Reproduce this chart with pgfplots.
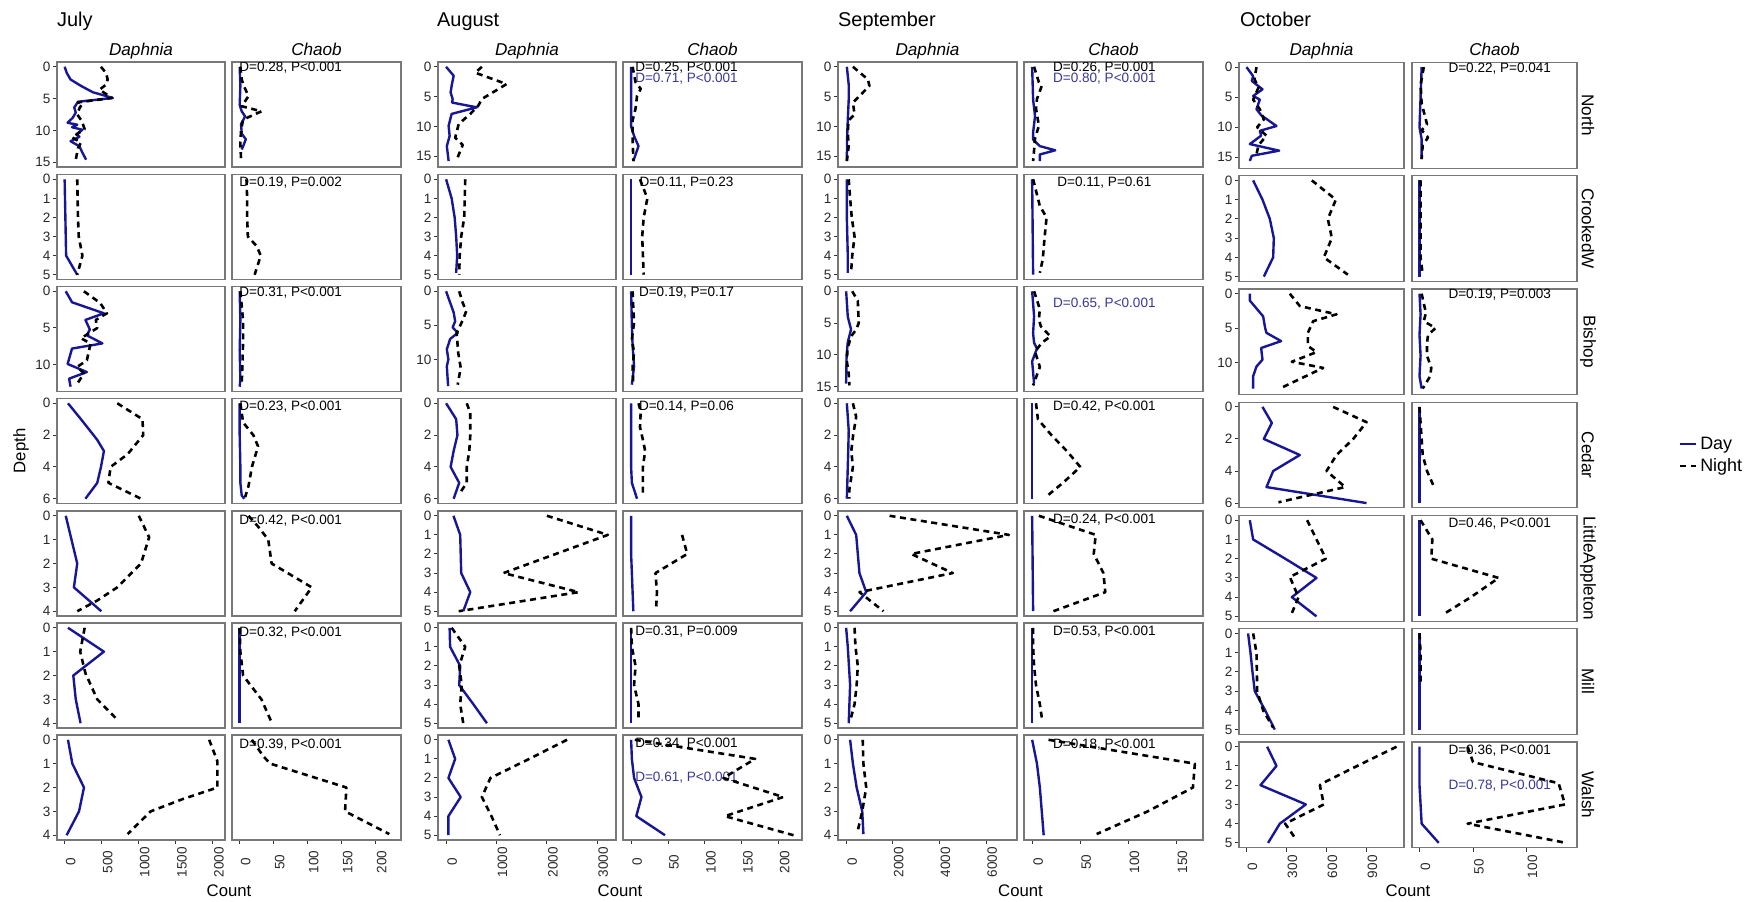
\documentclass[border=0pt]{standalone}
\usepackage{fontspec}
\setmainfont{Liberation Sans}
\usepackage{pgfplots}
\pgfplotsset{compat=1.18}

% one pixel of the layout grid
\newdimen\pxu
\pxu=1bp

\definecolor{dayblue}{RGB}{22,22,150}
\definecolor{statblue}{RGB}{55,55,150}
\definecolor{framegray}{RGB}{120,120,120}
\definecolor{tickgray}{RGB}{51,51,51}
\definecolor{labgray}{RGB}{40,40,40}

\newcommand{\tickfont}{\fontsize{13.6}{16}\selectfont}
\newcommand{\stripfont}{\fontsize{17.2}{20}\selectfont}
\newcommand{\titlefont}{\fontsize{20}{24}\selectfont}
\newcommand{\labfont}{\fontsize{16.8}{20}\selectfont}
\newcommand{\legfont}{\fontsize{18}{22}\selectfont}

\pgfplotsset{
  panel/.style={
    scale only axis, anchor=north west,
    y dir=reverse,
    axis line style={draw=framegray, line width=1.2pt},
    tick align=outside,
    major tick length=4\pxu,
    tick style={draw=tickgray, line width=1pt},
    xtick=\empty, ytick=\empty,
    xtick pos=lower, ytick pos=left,
    ticklabel style={font=\tickfont, text=labgray},
    yticklabel style={inner sep=2.4pt},
    scaled ticks=false,
    /pgf/number format/assume math mode=true,
    /pgf/number format/1000 sep={},
  },
  xlab/.style={xticklabel style={yshift=-#1\pxu, xshift=6\pxu, rotate=90, anchor=center, inner sep=0pt}},
  day/.style={draw=dayblue, line width=2.4pt, no markers, line join=round},
  night/.style={draw=black, line width=2.6pt, dash pattern=on 6pt off 4.6pt, no markers, line join=round},
  yr/.style 2 args={ymin=#1, ymax=#2},
  % columns: July, August, September, October  (Daphnia / Chaob)
  JD/.style={at={(57\pxu,-#1\pxu)}, width=168\pxu, height=105\pxu, xmin=-103, xmax=2163},
  JC/.style={at={(232\pxu,-#1\pxu)}, width=169\pxu, height=105\pxu, xmin=-11.3, xmax=237.3},
  AD/.style={at={(438\pxu,-#1\pxu)}, width=178\pxu, height=105\pxu, xmin=-160.5, xmax=3371.5},
  AC/.style={at={(623\pxu,-#1\pxu)}, width=179\pxu, height=105\pxu, xmin=-11, xmax=231.5},
  SD/.style={at={(838\pxu,-#1\pxu)}, width=179\pxu, height=105\pxu, xmin=-349, xmax=7324},
  SC/.style={at={(1024\pxu,-#1\pxu)}, width=179\pxu, height=105\pxu, xmin=-8.45, xmax=177.45},
  OD/.style={at={(1239\pxu,-#1\pxu)}, width=165\pxu, height=105.8\pxu, xmin=-56, xmax=1181},
  OC/.style={at={(1412\pxu,-#1\pxu)}, width=165\pxu, height=105.8\pxu, xmin=-7, xmax=147.2},
}
\tikzset{
  dlab/.style={font=\tickfont, text=black, anchor=center, inner sep=0pt},
  blab/.style={font=\tickfont, text=statblue, anchor=center, inner sep=0pt},
}

\begin{document}
\begin{tikzpicture}
\useasboundingbox (0,0) rectangle (1763\pxu,-901\pxu);

% ======================= July =======================
\begin{axis}[panel, JD=62, yr={-0.75}{15.75}, ytick={0,5,10,15}]
\addplot[day] coordinates {(0,0) (30,1) (80,2) (220,3) (380,4) (650,4.9) (180,5.5) (130,6.4) (150,7.2) (110,8) (40,8.8) (170,9.1) (100,9.5) (240,9.9) (160,10.6) (200,11) (80,11.7) (200,12.5) (240,13.5) (290,14.6)};
\addplot[night] coordinates {(490,0) (560,1) (580,2) (560,2.8) (470,3.6) (640,4.9) (180,5.6) (240,5.8) (200,6.5) (170,7.5) (230,8.5) (270,9.8) (100,11.1) (220,11.9) (180,12.8) (150,14.6)};
\end{axis}
\begin{axis}[panel, JC=62, yr={-0.75}{15.75}]
\node[dlab] at (axis cs:75,0.2) {D=0.28, P<0.001};
\addplot[day] coordinates {(0,0) (1,3) (0,6) (3,7) (8,7.8) (2,9) (3,10.5) (9,11.4) (5,12.5) (3,13)};
\addplot[night] coordinates {(1,0) (3,2) (6,3) (13,4.6) (3,6.2) (32,7) (5,8.3) (2,10) (1,12) (2,14.6)};
\end{axis}

\begin{axis}[panel, JD=174.5, yr={-0.25}{5.25}, ytick={0,...,5}]
\addplot[day] coordinates {(0,0) (5,1) (10,2) (15,3) (20,4) (170,5)};
\addplot[night] coordinates {(170,0) (175,1) (180,2) (190,3) (240,4) (170,5)};
\end{axis}
\begin{axis}[panel, JC=174.5, yr={-0.25}{5.25}]
\node[dlab] at (axis cs:75,0.2) {D=0.19, P=0.002};
\addplot[night] coordinates {(10,0) (11,1) (11,2) (12,3) (25,3.5) (31,4) (22,5)};
\end{axis}

\begin{axis}[panel, JD=286.5, yr={-0.65}{13.65}, ytick={0,5,10}]
\addplot[day] coordinates {(15,0) (100,1.5) (530,3) (280,3.9) (340,5.2) (300,6) (510,7.1) (100,7.8) (40,9.9) (300,11) (60,11.9) (80,13)};
\addplot[night] coordinates {(260,0) (480,1.6) (570,3) (420,3.9) (440,5) (220,6.4) (350,7.1) (300,9.4) (170,10.3) (260,11.2) (170,12.6)};
\end{axis}
\begin{axis}[panel, JC=286.5, yr={-0.65}{13.65}]
\node[dlab] at (axis cs:75,0.2) {D=0.31, P<0.001};
\addplot[day] coordinates {(0,0) (1,4) (0,8) (1,12) (0,13)};
\addplot[night] coordinates {(1,0) (3,2) (5,4) (5,7) (4,10) (3,12.6)};
\end{axis}

\begin{axis}[panel, JD=398.5, yr={-0.3}{6.3}, ytick={0,2,4,6}]
\addplot[day] coordinates {(45,0) (220,1) (440,2.3) (530,3) (490,4) (440,5) (280,6)};
\addplot[night] coordinates {(710,0) (1050,1) (1060,2) (850,3.2) (620,4) (590,5) (1030,6)};
\end{axis}
\begin{axis}[panel, JC=398.5, yr={-0.3}{6.3}]
\node[dlab] at (axis cs:75,0.2) {D=0.23, P<0.001};
\addplot[day] coordinates {(0,0) (0,2) (1,4) (1,5) (3,5.8) (7,6)};
\addplot[night] coordinates {(1,0) (5,1.2) (20,2) (27,2.7) (25,3) (18,4) (13,5.2) (8,5.9)};
\end{axis}

\begin{axis}[panel, JD=511, yr={-0.2}{4.2}, ytick={0,...,4}]
\addplot[day] coordinates {(15,0) (170,2) (125,3) (495,4)};
\addplot[night] coordinates {(1000,0) (1140,0.9) (1030,2) (710,3) (440,3.55) (170,4)};
\end{axis}
\begin{axis}[panel, JC=511, yr={-0.2}{4.2}]
\node[dlab] at (axis cs:75,0.2) {D=0.42, P<0.001};
\addplot[night] coordinates {(13,0) (27,0.45) (42,1) (47,2) (106,3) (81,4)};
\end{axis}

\begin{axis}[panel, JD=623, yr={-0.2}{4.2}, ytick={0,...,4}]
\addplot[day] coordinates {(45,0) (530,1) (117,2) (150,3) (215,4)};
\addplot[night] coordinates {(270,0) (210,1) (280,1.9) (440,3) (710,3.85)};
\end{axis}
\begin{axis}[panel, JC=623, yr={-0.2}{4.2}]
\node[dlab] at (axis cs:75,0.2) {D=0.32, P<0.001};
\addplot[day] coordinates {(0,0) (0,1) (0,2) (0,3) (0,4)};
\addplot[night] coordinates {(0,0) (1,1) (5,2) (32,3) (46,3.9)};
\end{axis}

\begin{axis}[panel, JD=735, yr={-0.2}{4.2}, ytick={0,...,4}, xtick={0,500,1000,1500,2000}, xlab=18]
\addplot[day] coordinates {(45,0) (104,1) (261,2) (194,3) (27,4)};
\addplot[night] coordinates {(1950,0) (2060,0.9) (2060,2) (1580,2.5) (1160,3) (850,3.95)};
\end{axis}
\begin{axis}[panel, JC=735, yr={-0.2}{4.2}, xtick={0,50,100,150,200}, xlab=18]
\node[dlab] at (axis cs:75,0.2) {D=0.39, P<0.001};
\addplot[night] coordinates {(18,0) (35,0.7) (45,1) (157,2) (155,3) (220,3.95)};
\end{axis}

% ======================= August =======================
\begin{axis}[panel, AD=62, yr={-0.8}{16.8}, ytick={0,5,10,15}]
\addplot[day] coordinates {(0,0) (150,1.5) (110,3.2) (90,4.3) (130,5.4) (120,6) (610,6.8) (110,7.9) (50,9.9) (70,11.6) (15,13.3) (50,15.8)};
\addplot[night] coordinates {(710,0) (580,1) (1200,2.9) (710,5.4) (640,6.5) (480,7.9) (250,9.6) (180,11.9) (330,13.1) (200,15.8)};
\end{axis}
\begin{axis}[panel, AC=62, yr={-0.8}{16.8}]
\node[dlab] at (axis cs:75,0.2) {D=0.25, P<0.001};
\node[blab] at (axis cs:75,2) {D=0.71, P<0.001};
\addplot[day] coordinates {(0,0) (0,6) (0,10) (4,11.6) (10,13.3) (3,15.8)};
\addplot[night] coordinates {(2,0) (6,2.6) (13,3.7) (8,4.9) (6,7) (2,9) (2,12) (3,15.8)};
\end{axis}

\begin{axis}[panel, AD=174.5, yr={-0.25}{5.25}, ytick={0,...,5}]
\addplot[day] coordinates {(0,0) (110,1) (170,2) (200,3) (220,4) (200,4.9)};
\addplot[night] coordinates {(380,0) (370,1) (360,2) (300,3) (270,4) (260,5)};
\end{axis}
\begin{axis}[panel, AC=174.5, yr={-0.25}{5.25}]
\node[dlab] at (axis cs:75,0.2) {D=0.11, P=0.23};
\addplot[day] coordinates {(0,0) (0,5)};
\addplot[night] coordinates {(12,0) (22,1) (17,2) (15,3) (16,4) (17,5)};
\end{axis}

\begin{axis}[panel, AD=286.5, yr={-0.7}{14.7}, ytick={0,5,10}]
\addplot[day] coordinates {(0,0) (150,3.1) (180,4.4) (130,5.3) (230,6.1) (80,7) (15,8.5) (45,10) (15,11) (40,13.9)};
\addplot[night] coordinates {(260,0) (330,1.7) (400,2.9) (340,4.1) (210,6.1) (240,9) (290,11.2) (230,13.7)};
\end{axis}
\begin{axis}[panel, AC=286.5, yr={-0.7}{14.7}]
\node[dlab] at (axis cs:75,0.2) {D=0.19, P=0.17};
\addplot[day] coordinates {(0,0) (1,5) (2,8) (4,11) (1,13.7)};
\addplot[night] coordinates {(2,0) (3,2.6) (4,4.6) (1,7) (4,9) (2,11) (3,13.7)};
\end{axis}

\begin{axis}[panel, AD=398.5, yr={-0.3}{6.3}, ytick={0,2,4,6}]
\addplot[day] coordinates {(0,0) (200,1) (225,2) (150,3) (90,4) (260,5) (150,6)};
\addplot[night] coordinates {(410,0) (480,0.6) (480,2) (460,3) (410,4) (410,5) (250,5.75)};
\end{axis}
\begin{axis}[panel, AC=398.5, yr={-0.3}{6.3}]
\node[dlab] at (axis cs:75,0.2) {D=0.14, P=0.06};
\addplot[day] coordinates {(0,0) (0,4) (1,5) (8,6)};
\addplot[night] coordinates {(10,0) (13,0.5) (12,1.5) (16,2.3) (19,3) (16,4) (16,5.65)};
\end{axis}

\begin{axis}[panel, AD=511, yr={-0.25}{5.25}, ytick={0,...,5}]
\addplot[day] coordinates {(146,0) (280,1) (290,2) (300,3) (480,4) (340,5)};
\addplot[night] coordinates {(2000,0) (3210,1) (1140,3) (2630,4) (250,5)};
\end{axis}
\begin{axis}[panel, AC=511, yr={-0.25}{5.25}]
\addplot[day] coordinates {(0,0) (0,2) (1,3) (2,4) (3,5)};
\addplot[night] coordinates {(69,1) (76,2) (33,3) (35,4) (34,4.75)};
\end{axis}

\begin{axis}[panel, AD=623, yr={-0.25}{5.25}, ytick={0,...,5}]
\addplot[day] coordinates {(70,0) (80,1) (280,2) (260,3) (540,4) (810,5)};
\addplot[night] coordinates {(110,0) (380,1) (260,2) (310,3) (280,4) (340,5)};
\end{axis}
\begin{axis}[panel, AC=623, yr={-0.25}{5.25}]
\node[dlab] at (axis cs:75,0.2) {D=0.31, P=0.009};
\addplot[day] coordinates {(0,0) (0,5)};
\addplot[night] coordinates {(0,0) (1,1) (6,2) (4,3) (10,4) (10,4.7)};
\end{axis}

\begin{axis}[panel, AD=735, yr={-0.25}{5.25}, ytick={0,...,5}, xtick={0,1000,2000,3000}, xlab=18]
\addplot[day] coordinates {(46,0) (180,1) (46,2) (290,3) (46,4) (46,5)};
\addplot[night] coordinates {(2400,0) (1650,1) (880,2) (710,3) (900,4) (1070,5)};
\end{axis}
\begin{axis}[panel, AC=735, yr={-0.25}{5.25}, xtick={0,50,100,150,200}, xlab=18]
\node[dlab] at (axis cs:75,0.2) {D=0.34, P<0.001};
\node[blab] at (axis cs:75,2) {D=0.61, P<0.001};
\addplot[day] coordinates {(0,0) (1,1) (4,2) (14,3) (7,4) (46,5)};
\addplot[night] coordinates {(5,0) (168,1) (125,2) (206,3) (127,4) (220,5)};
\end{axis}

% ======================= September =======================
\begin{axis}[panel, SD=62, yr={-0.8}{16.8}, ytick={0,5,10,15}]
\addplot[day] coordinates {(30,0) (110,3) (110,5.5) (70,9) (40,12) (30,15.8)};
\addplot[night] coordinates {(290,0) (930,2.1) (1000,3.2) (570,4.9) (290,6) (360,8) (100,9) (70,11) (110,13.3) (30,15.8)};
\end{axis}
\begin{axis}[panel, SC=62, yr={-0.8}{16.8}]
\node[dlab] at (axis cs:75,0.2) {D=0.26, P=0.001};
\node[blab] at (axis cs:75,2) {D=0.80, P<0.001};
\addplot[day] coordinates {(0,0) (1,5.5) (3,8.3) (1,11) (1,12.2) (8,13.3) (24,14) (8,14.7) (8,15.8)};
\addplot[night] coordinates {(2,0) (7,2.6) (10,3.2) (5,5.4) (4,7) (7,9.9) (3,12) (2,14) (1,15.8)};
\end{axis}

\begin{axis}[panel, SD=174.5, yr={-0.25}{5.25}, ytick={0,...,5}]
\addplot[day] coordinates {(30,0) (30,1) (30,2) (50,3) (70,4) (70,4.9)};
\addplot[night] coordinates {(110,0) (170,1) (240,2) (360,3) (260,4) (210,4.9)};
\end{axis}
\begin{axis}[panel, SC=174.5, yr={-0.25}{5.25}]
\node[dlab] at (axis cs:75,0.2) {D=0.11, P=0.61};
\addplot[day] coordinates {(0,0) (1,5)};
\addplot[night] coordinates {(1,0) (8,1.4) (15,2) (13,3) (11,4.2) (8,4.9)};
\end{axis}

\begin{axis}[panel, SD=286.5, yr={-0.75}{15.75}, ytick={0,5,10,15}]
\addplot[day] coordinates {(0,0) (70,4) (210,6) (70,8) (20,10) (10,12) (0,14.5)};
\addplot[night] coordinates {(260,0) (500,1.5) (540,5) (430,6) (210,7.1) (60,9) (30,11) (110,13) (140,14.8)};
\end{axis}
\begin{axis}[panel, SC=286.5, yr={-0.75}{15.75}]
\node[blab] at (axis cs:75,2) {D=0.65, P<0.001};
\addplot[day] coordinates {(0,0) (2,3.9) (1,6.6) (2,8.1) (5,9) (0,11) (2,14.5)};
\addplot[night] coordinates {(2,0) (8,2.8) (7,4.4) (9,5.5) (19,7.1) (10,8.1) (3,9.5) (8,11.9) (1,14.8)};
\end{axis}

\begin{axis}[panel, SD=398.5, yr={-0.3}{6.3}, ytick={0,2,4,6}]
\addplot[day] coordinates {(30,0) (110,1.7) (90,3) (70,4) (50,5) (30,6)};
\addplot[night] coordinates {(290,0) (430,0.85) (300,2) (220,3) (290,4) (140,5.4) (140,6)};
\end{axis}
\begin{axis}[panel, SC=398.5, yr={-0.3}{6.3}]
\node[dlab] at (axis cs:75,0.2) {D=0.42, P<0.001};
\addplot[day] coordinates {(0,0) (0,6)};
\addplot[night] coordinates {(4,0) (6,1) (20,2) (36,3) (50,4) (32,5) (15,5.85)};
\end{axis}

\begin{axis}[panel, SD=511, yr={-0.25}{5.25}, ytick={0,...,5}]
\addplot[day] coordinates {(29,0) (430,1) (500,2) (570,3) (860,4) (170,5)};
\addplot[night] coordinates {(1860,0) (6975,1) (2790,2) (4570,3) (570,4) (1600,5)};
\end{axis}
\begin{axis}[panel, SC=511, yr={-0.25}{5.25}]
\node[dlab] at (axis cs:75,0.2) {D=0.24, P<0.001};
\addplot[day] coordinates {(0,0) (1,5)};
\addplot[night] coordinates {(7,0) (66,1) (64,2) (74,3) (76,4) (22,5)};
\end{axis}

\begin{axis}[panel, SD=623, yr={-0.25}{5.25}, ytick={0,...,5}]
\addplot[day] coordinates {(0,0) (70,1) (120,2) (170,3) (140,4) (110,5)};
\addplot[night] coordinates {(360,0) (400,1) (500,2) (450,3) (360,4) (210,4.7)};
\end{axis}
\begin{axis}[panel, SC=623, yr={-0.25}{5.25}]
\node[dlab] at (axis cs:75,0.2) {D=0.53, P<0.001};
\addplot[day] coordinates {(0,0) (0,5)};
\addplot[night] coordinates {(1,0) (1,1) (2,2) (4,3) (8,4) (10,4.7)};
\end{axis}

\begin{axis}[panel, SD=735, yr={-0.2}{4.2}, ytick={0,...,4}, xtick={0,2000,4000,6000}, xlab=18]
\addplot[day] coordinates {(170,0) (290,1) (450,2) (690,3) (740,3.95)};
\addplot[night] coordinates {(710,0) (740,1) (860,2) (690,3) (500,3.8)};
\end{axis}
\begin{axis}[panel, SC=735, yr={-0.2}{4.2}, xtick={0,50,100,150}, xlab=18]
\node[dlab] at (axis cs:75,0.2) {D=0.18, P<0.001};
\addplot[day] coordinates {(0,0) (5,1) (8,2) (10,3) (12,4)};
\addplot[night] coordinates {(17,0) (169,1) (167,2) (120,3) (67,3.95)};
\end{axis}

% ======================= October =======================
\begin{axis}[panel, OD=62.3, yr={-0.8}{16.8}, ytick={0,5,10,15}]
\addplot[day] coordinates {(0,0) (50,1.5) (40,2.3) (120,3.7) (50,4.8) (100,5.4) (75,7) (110,8) (225,9.8) (100,10.6) (110,11.4) (25,12.8) (245,13.9) (40,14.75) (25,15.6)};
\addplot[night] coordinates {(75,0) (60,2) (90,3.4) (50,5.4) (100,7) (130,8.7) (80,10) (150,11.4) (90,13) (70,15)};
\end{axis}
\begin{axis}[panel, OC=62.3, yr={-0.8}{16.8}]
\node[dlab] at (axis cs:75,0.2) {D=0.22, P=0.041};
\addplot[day] coordinates {(2,0) (1,5) (0,10) (2,12) (2,15.3)};
\addplot[night] coordinates {(4,0) (1,3) (2,6) (7,9.5) (2,10.5) (8,11.7) (3,13) (2,15.3)};
\end{axis}

\begin{axis}[panel, OD=175.6, yr={-0.25}{5.25}, ytick={0,...,5}]
\addplot[day] coordinates {(50,0) (120,1) (175,2) (205,3) (200,4) (130,5)};
\addplot[night] coordinates {(490,0) (670,1) (610,2) (640,3) (580,4) (760,4.9)};
\end{axis}
\begin{axis}[panel, OC=175.6, yr={-0.25}{5.25}]
\addplot[day] coordinates {(0,0) (0,5)};
\addplot[night] coordinates {(1,0) (1,1) (1,2) (1,3) (1,4) (3,4.9)};
\end{axis}

\begin{axis}[panel, OD=288.9, yr={-0.7}{14.7}, ytick={0,5,10}]
\addplot[day] coordinates {(25,0) (25,1) (60,1.8) (125,3.3) (140,5) (150,5.7) (260,6.9) (110,7.9) (120,9.6) (75,10.6) (50,12) (50,13.8)};
\addplot[night] coordinates {(325,0) (400,1.8) (675,3) (500,4) (460,5.7) (460,7.6) (525,8.5) (340,9.9) (575,10.8) (250,13.8)};
\end{axis}
\begin{axis}[panel, OC=288.9, yr={-0.7}{14.7}]
\node[dlab] at (axis cs:75,0.2) {D=0.19, P=0.003};
\addplot[day] coordinates {(0,0) (1,3) (0,6) (1,9) (0,12) (2,13.8)};
\addplot[night] coordinates {(2,0) (6,2.8) (4,4) (15,5) (8,6) (7,7.2) (7,9) (11,10.8) (10,12) (3,13.8)};
\end{axis}

\begin{axis}[panel, OD=402.1, yr={-0.3}{6.3}, ytick={0,2,4,6}]
\addplot[day] coordinates {(120,0) (190,1) (130,2) (400,3) (200,4) (150,5) (900,6)};
\addplot[night] coordinates {(650,0) (900,0.95) (800,2) (675,3) (600,4) (740,5) (240,5.95)};
\end{axis}
\begin{axis}[panel, OC=402.1, yr={-0.3}{6.3},
  legend style={at={(1.615,0.5)}, anchor=west, draw=none, fill=none, font=\legfont,
                inner sep=0pt, row sep=2\pxu, nodes={inner sep=3pt}},
  legend cell align=left,
  legend image code/.code={\draw[#1] (0pt,0pt) -- (16\pxu,0pt);}]
\addplot[day] coordinates {(0,0) (0,6)};
\addlegendentry{Day}
\addplot[night] coordinates {(0,0) (1,1) (2,2) (3,3) (7,4) (13,4.9)};
\addlegendentry{Night}
\end{axis}

\begin{axis}[panel, OD=515.4, yr={-0.25}{5.25}, ytick={0,...,5}]
\addplot[day] coordinates {(25,0) (50,1) (290,2) (525,3) (340,4) (525,5)};
\addplot[night] coordinates {(455,0) (525,1) (595,2) (325,2.95) (390,4) (330,5)};
\end{axis}
\begin{axis}[panel, OC=515.4, yr={-0.25}{5.25}]
\node[dlab] at (axis cs:75,0.2) {D=0.46, P<0.001};
\addplot[day] coordinates {(0,0) (0,5)};
\addplot[night] coordinates {(1,0) (12,1) (11,2) (74,3) (48,4) (22,4.9)};
\end{axis}

\begin{axis}[panel, OD=628.6, yr={-0.25}{5.25}, ytick={0,...,5}]
\addplot[day] coordinates {(12,0) (30,1) (45,2) (62,3) (140,4) (212,5)};
\addplot[night] coordinates {(50,0) (75,1) (78,2) (80,3) (125,4) (200,4.9)};
\end{axis}
\begin{axis}[panel, OC=628.6, yr={-0.25}{5.25}]
\addplot[day] coordinates {(0,0) (0,5)};
\addplot[night] coordinates {(0,0) (1,1) (1,2) (1,2.7)};
\end{axis}

\begin{axis}[panel, OD=741.9, yr={-0.25}{5.25}, ytick={0,...,5}, xtick={0,300,600,900}, xlab=15]
\addplot[day] coordinates {(155,0) (225,1) (105,2) (445,3) (250,4) (162,5)};
\addplot[night] coordinates {(1125,0) (830,1) (570,1.9) (550,2) (580,3) (290,4) (375,4.85)};
\end{axis}
\begin{axis}[panel, OC=741.9, yr={-0.25}{5.25}, xtick={0,50,100}, xlab=15]
\node[dlab] at (axis cs:75,0.2) {D=0.36, P<0.001};
\node[blab] at (axis cs:75,2) {D=0.78, P<0.001};
\addplot[day] coordinates {(0,0) (0,1) (0,2) (1,3) (2,4) (18,5)};
\addplot[night] coordinates {(45,0) (50,0.8) (130,1.9) (136,3) (45,4) (137,5)};
\end{axis}

% ======================= titles, strips and axis labels =======================
\begin{scope}[every node/.style={inner sep=0pt}]
\node[font=\titlefont, anchor=base west] at (57\pxu,-26\pxu) {July};
\node[font=\titlefont, anchor=base west] at (437\pxu,-26\pxu) {August};
\node[font=\titlefont, anchor=base west] at (838\pxu,-26\pxu) {September};
\node[font=\titlefont, anchor=base west] at (1240\pxu,-26\pxu) {October};

\foreach \cx/\nm in {141/Daphnia, 316.5/Chaob, 527/Daphnia, 712.5/Chaob,
                     927.5/Daphnia, 1113.5/Chaob, 1321.5/Daphnia, 1494.5/Chaob}
  \node[font=\stripfont\itshape, anchor=base] at (\cx\pxu,-55.7\pxu) {\nm};

\foreach \cy/\nm in {115.2/North, 228.5/CrookedW, 341.8/Bishop, 455/Cedar,
                     568.3/LittleAppleton, 681.5/Mill, 794.8/Walsh}
  \node[font=\stripfont, rotate=-90, anchor=center] at (1588\pxu,-\cy\pxu) {\nm};

\node[font=\labfont, rotate=90, anchor=center] at (21\pxu,-451\pxu) {Depth};
\foreach \cx in {229, 620, 1020.5, 1408}
  \node[font=\labfont, anchor=base] at (\cx\pxu,-896.5\pxu) {Count};
\end{scope}

\end{tikzpicture}
\end{document}
